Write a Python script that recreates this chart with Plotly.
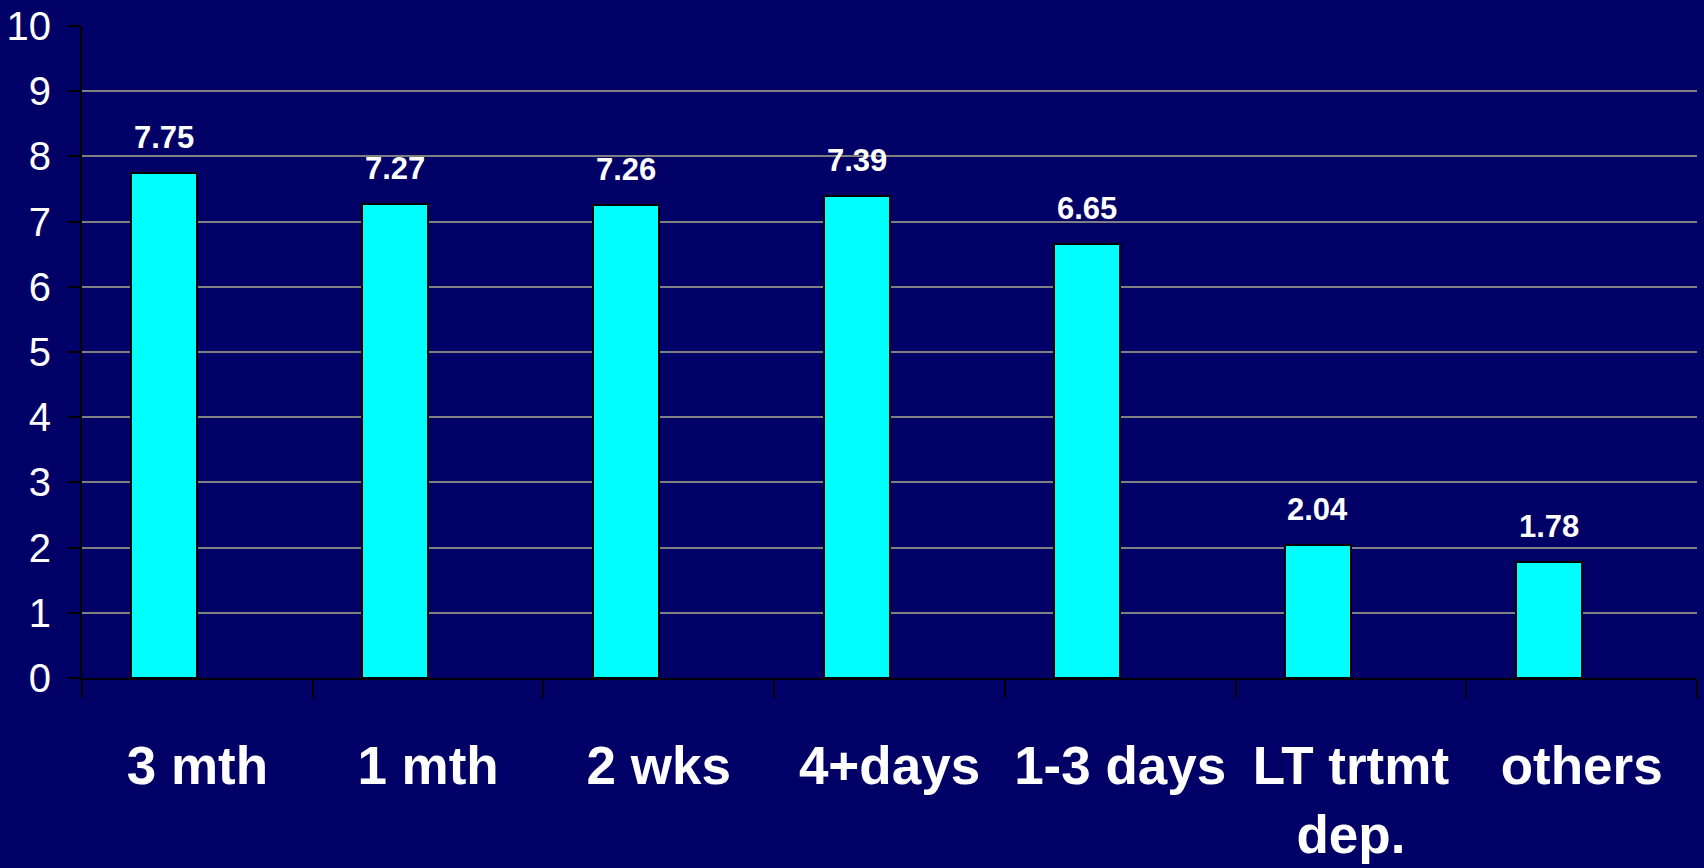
import plotly.graph_objects as go

# Chart data
categories = ["3 mth", "1 mth", "2 wks", "4+days", "1-3 days", "LT trtmt<br>dep.", "others"]
values = [7.75, 7.27, 7.26, 7.39, 6.65, 2.04, 1.78]
y_ticks = list(range(0, 11))

BG = "#000066"
BAR = "#00FFFF"
FONT = "Liberation Sans, Arial, sans-serif"
BAR_W = 0.286  # bar width in category units; bars sit left of the category centre

fig = go.Figure()
fig.add_trace(go.Bar(
    x=categories,
    y=values,
    width=BAR_W,
    offset=-BAR_W,
    marker=dict(color=BAR, line=dict(color="black", width=2)),
    hoverinfo="x+y",
))

# Value labels above each bar
for i, v in enumerate(values):
    fig.add_annotation(
        x=i - BAR_W / 2, y=v, xref="x", yref="y",
        text=f"<b>{v:.2f}</b>", showarrow=False,
        yanchor="bottom", yshift=16,
        font=dict(family=FONT, size=31, color="white"),
    )

fig.update_layout(
    width=1704, height=868,
    margin=dict(l=82, r=7, t=26, b=190),
    paper_bgcolor=BG, plot_bgcolor=BG,
    showlegend=False,
    bargap=0,
)

fig.update_xaxes(
    type="category",
    range=[-0.5, len(categories) - 0.5],
    automargin=False,
    showline=True, linecolor="black", linewidth=2,
    ticks="outside", tickson="boundaries", ticklen=18, tickwidth=2, tickcolor="black",
    ticklabelstandoff=40,
    tickfont=dict(family=FONT, size=53, color="white", weight="bold"),
    showgrid=False,
)
fig.update_yaxes(
    range=[0, 10],
    tickvals=y_ticks,
    automargin=False,
    showline=True, linecolor="black", linewidth=2,
    ticks="outside", ticklen=12, tickwidth=2, tickcolor="black",
    ticklabelstandoff=9,
    tickfont=dict(family=FONT, size=40, color="white"),
    showgrid=True, gridcolor="#808080", gridwidth=2,
    zeroline=False,
)

fig.write_html("out.html")
